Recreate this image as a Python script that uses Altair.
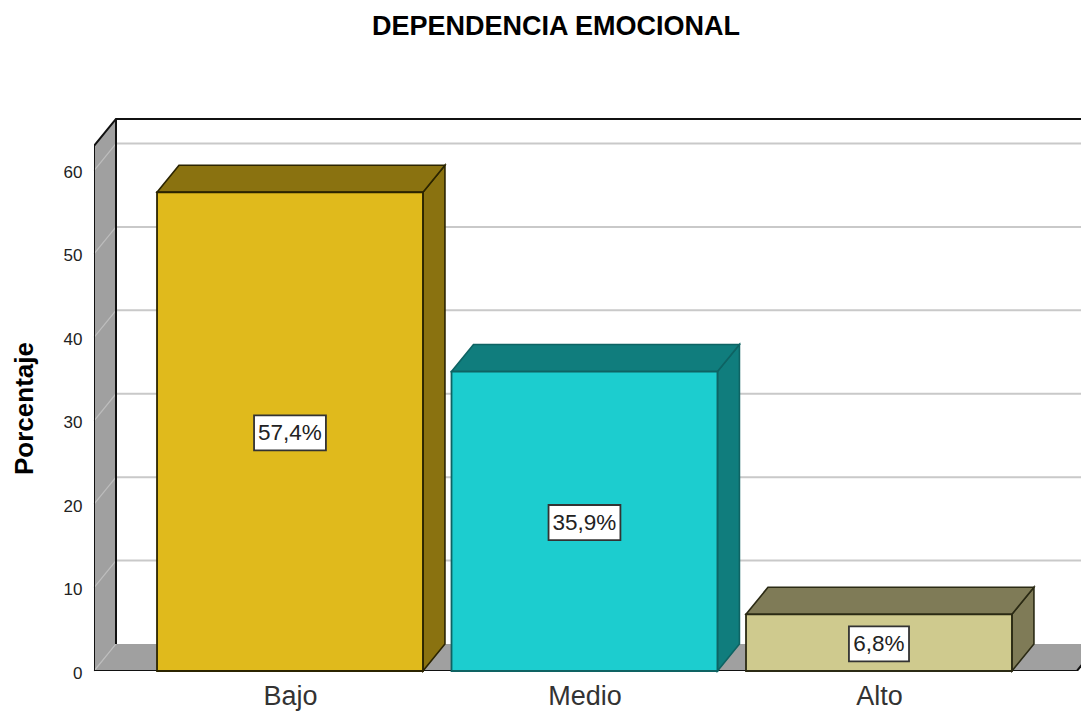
import altair as alt
import pandas as pd

# ---- values ----
categories = ["Bajo", "Medio", "Alto"]
percent = [57.4, 35.9, 6.8]
value_labels = ["57,4%", "35,9%", "6,8%"]
front_colors = ["#e0ba1c", "#1ccdcf", "#cfca8e"]
shade_colors = ["#8a7210", "#107d7d", "#7f7b57"]
edge_colors = ["#2b2400", "#0e6363", "#2b2a14"]
y_ticks = [0, 10, 20, 30, 40, 50, 60]

# ---- geometry in data units ----
Y_TOP = 62.95            # top of the front edge of the frame
DX, DY = 0.0747, 3.24    # depth of the pseudo 3-D projection
BAR_W = 0.903
X_MIN, X_MAX = 0.3345, 3.686
FLOOR_END = 3.672
x_scale = alt.Scale(domain=[X_MIN, X_MAX], nice=False, zero=False)
y_scale = alt.Scale(domain=[0, 66.3], nice=False, zero=False)
label_expr = "[" + ",".join(f"'{c}'" for c in categories) + "][datum.value-1]"
X = alt.X("x:Q", scale=x_scale, title=None,
          axis=alt.Axis(values=[1, 2, 3], labelExpr=label_expr,
                        domain=False, ticks=False, grid=False, labelFontSize=27,
                        labelPadding=12, labelColor="#333333", labelFont="Liberation Sans"))
Y = alt.Y("y:Q", scale=y_scale, title="Porcentaje",
          axis=alt.Axis(values=y_ticks, domain=False, ticks=False, grid=False, labelFontSize=17,
                        labelPadding=12, labelOffset=2, labelColor="#222222", labelFont="Liberation Sans",
                        titleFont="Liberation Sans", titleFontSize=26, titleFontWeight="bold",
                        titleColor="black", titleX=-57, titleY=290, titleAngle=270))

# floor
floor = pd.DataFrame({"x": [X_MIN, X_MIN + DX], "x2": [FLOOR_END, FLOOR_END + DX], "y": [0, DY]})
floor_l = alt.Chart(floor).mark_area(orient="horizontal", color="#a0a0a0", clip=True).encode(
    x=X, x2="x2:Q", y=Y)
# left wall
wall = pd.DataFrame({"x": [X_MIN, X_MIN + DX], "y": [0, DY], "y2": [Y_TOP, Y_TOP + DY]})
wall_l = alt.Chart(wall).mark_area(color="#a0a0a0").encode(x=X, y=Y, y2="y2:Q")

# grid lines on the back wall and across the left wall
grid_vals = y_ticks[1:]
grid_back = pd.DataFrame({"x": [X_MIN + DX] * 6, "x2": [X_MAX] * 6, "y": [v + DY for v in grid_vals]})
grid_l = alt.Chart(grid_back).mark_rule(color="#c9c9c9", strokeWidth=2, clip=True).encode(
    x=X, x2="x2:Q", y=Y)
diag = pd.DataFrame({"x": [X_MIN, X_MIN + DX] * 7,
                     "y": [p for v in y_ticks for p in (v, v + DY)],
                     "g": [v for v in y_ticks for _ in (0, 1)]})
diag_l = alt.Chart(diag).mark_line(color="#bdbdbd", strokeWidth=1.2).encode(x=X, y=Y, detail="g:N")

# frame lines
frame = pd.DataFrame({
    "x": [X_MIN, X_MIN, X_MIN + DX, X_MAX, X_MIN + DX, X_MIN + DX,
          X_MIN, FLOOR_END, FLOOR_END, FLOOR_END + DX],
    "y": [0, Y_TOP, Y_TOP + DY, Y_TOP + DY, Y_TOP + DY, DY,
          0, 0, 0, DY],
    "g": [0, 0, 0, 0, 1, 1, 2, 2, 3, 3],
})
frame_l = alt.Chart(frame).mark_line(color="#111111", strokeWidth=2, clip=True).encode(
    x=X, y=Y, detail="g:N", order=alt.Order("o:Q")
).transform_window(o="row_number()", groupby=["g"])

layers = [floor_l, wall_l, grid_l, diag_l, frame_l]

# bars
for i, (v, lab) in enumerate(zip(percent, value_labels)):
    xl, xr = (i + 1) - BAR_W / 2, (i + 1) + BAR_W / 2
    side = pd.DataFrame({"x": [xr, xr + DX], "y": [0, DY], "y2": [v, v + DY]})
    top = pd.DataFrame({"x": [xl, xl + DX], "x2": [xr, xr + DX], "y": [v, v + DY]})
    front = pd.DataFrame({"x": [xl], "x2": [xr], "y": [0], "y2": [v]})
    layers.append(alt.Chart(side).mark_area(color=shade_colors[i], stroke=edge_colors[i], strokeWidth=1.6)
                  .encode(x=X, y=Y, y2="y2:Q"))
    layers.append(alt.Chart(top).mark_area(orient="horizontal", color=shade_colors[i], stroke=edge_colors[i], strokeWidth=1.6)
                  .encode(x=X, x2="x2:Q", y=Y))
    layers.append(alt.Chart(front).mark_rect(color=front_colors[i], stroke=edge_colors[i], strokeWidth=1.8)
                  .encode(x=X, x2="x2:Q", y=Y, y2="y2:Q"))
    half_w = (0.122 if len(lab) > 4 else 0.102)
    mid = v / 2 - 0.15
    box = pd.DataFrame({"x": [(i + 1) - half_w], "x2": [(i + 1) + half_w],
                        "y": [mid - 2.1], "y2": [mid + 2.1]})
    layers.append(alt.Chart(box).mark_rect(color="white", stroke="#333333", strokeWidth=1.8)
                  .encode(x=X, x2="x2:Q", y=Y, y2="y2:Q"))
    txt = pd.DataFrame({"x": [i + 1], "y": [mid], "t": [lab]})
    layers.append(alt.Chart(txt).mark_text(font="Liberation Sans", fontSize=22.5, color="#222222", baseline="middle")
                  .encode(x=X, y=Y, text="t:N"))

chart = alt.layer(*layers).resolve_scale(x="shared", y="shared").properties(
    width=987, height=553,
    padding={"left": 86, "top": 110, "right": 0, "bottom": 42},
    autosize=alt.AutoSizeParams(type="none"),
    title=alt.TitleParams("DEPENDENCIA EMOCIONAL", font="Liberation Sans", fontSize=27, fontWeight="bold",
                          color="black", anchor="middle", frame="group", dx=-31.5, offset=77),
    background="white",
).configure_view(stroke=None)

chart.save("out.html", embed_options={"renderer": "svg", "actions": False})
